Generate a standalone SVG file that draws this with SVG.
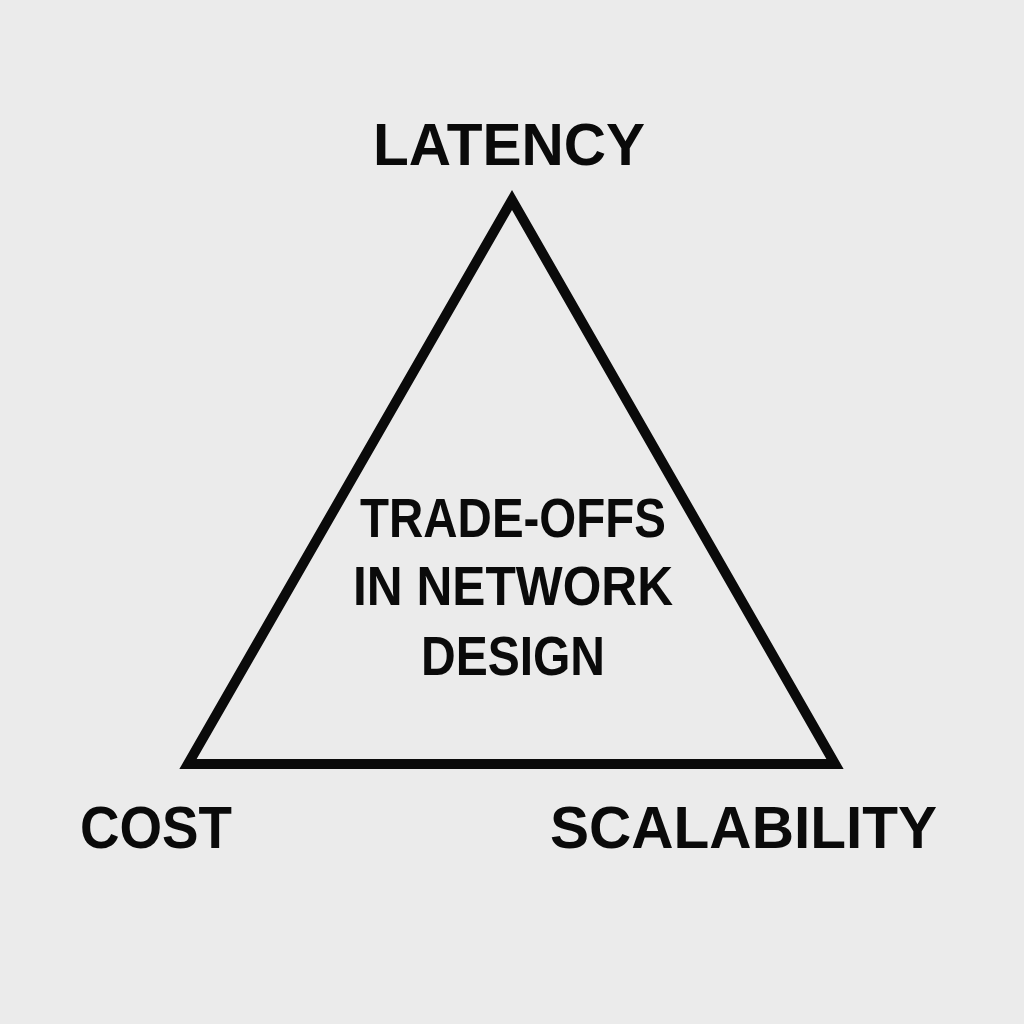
<svg xmlns="http://www.w3.org/2000/svg" width="1024" height="1024" viewBox="0 0 1024 1024">
<style>
.lbl{font-family:"Liberation Sans","DejaVu Sans",sans-serif;font-weight:bold;fill:#0a0a0a}
.edge{fill:none;stroke:#0a0a0a;stroke-width:10;stroke-linejoin:miter;stroke-miterlimit:10}
</style>
<rect width="1024" height="1024" fill="#ebebeb"/>
<g id="connectors">
<polygon class="edge" points="512,200 188,764 835,764"/>
</g>
<g id="latency"><text class="lbl" x="509" y="165" font-size="60" text-anchor="middle" textLength="272" lengthAdjust="spacingAndGlyphs">LATENCY</text></g>
<g id="cost"><text class="lbl" x="80" y="848" font-size="60" textLength="152" lengthAdjust="spacingAndGlyphs">COST</text></g>
<g id="scalability"><text class="lbl" x="550" y="848" font-size="60" textLength="387" lengthAdjust="spacingAndGlyphs">SCALABILITY</text></g>
<g id="center">
<text class="lbl" x="513" y="537" font-size="56" text-anchor="middle" textLength="306" lengthAdjust="spacingAndGlyphs">TRADE-OFFS</text>
<text class="lbl" x="513" y="605" font-size="56" text-anchor="middle" textLength="320" lengthAdjust="spacingAndGlyphs">IN NETWORK</text>
<text class="lbl" x="513" y="675" font-size="56" text-anchor="middle" textLength="184" lengthAdjust="spacingAndGlyphs">DESIGN</text>
</g>
</svg>
